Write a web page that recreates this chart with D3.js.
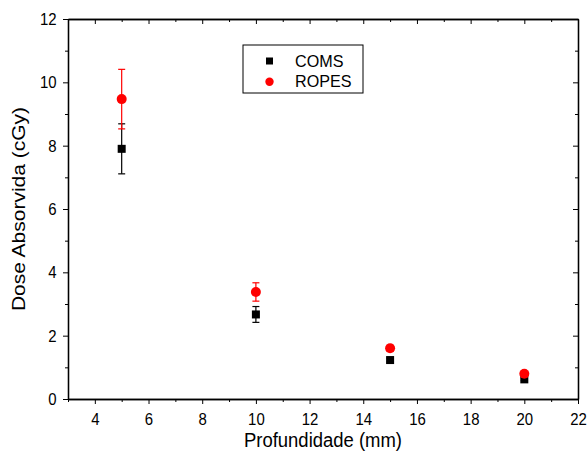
<!DOCTYPE html>
<html>
<head>
<meta charset="utf-8">
<script src="https://cdn.jsdelivr.net/npm/d3@7"></script>
<style>
  body { margin: 0; background: #fff; }
  text { font-family: "Liberation Sans", Arial, sans-serif; }
</style>
</head>
<body>
<div id="chart"></div>
<script>
const width = 587
const height = 457
const margin = {top: 19, bottom: 58, left: 68, right: 9}
const squeeze = 0.88 // the original text looks a bit narrow

// data
const depths = [5, 10, 15, 20]
const comsDose = [7.9, 2.67, 1.23, 0.62]
const comsErr = [0.79, 0.25, 0.06, 0.04]
const ropesDose = [9.47, 3.38, 1.6, 0.8]
const ropesErr = [0.94, 0.29, 0.1, 0.05]
const xTicks = [4, 6, 8, 10, 12, 14, 16, 18, 20, 22]
const yTicks = [0, 2, 4, 6, 8, 10, 12]

const svg = d3.select("#chart").append("svg").attr("width", width).attr("height", height)
const innerW = width - margin.left - margin.right
const innerH = height - margin.top - margin.bottom
const g = svg.append("g").attr("transform", `translate(${margin.left}, ${margin.top})`)

const x = d3.scaleLinear().domain([3, 22]).range([0, innerW])
const y = d3.scaleLinear().domain([0, 12]).range([innerH, 0])

const minorX = d3.range(3, 23, 1).filter(v => v % 2 == 1)
const minorY = d3.range(1, 12, 2)

// bottom and left axes, ticks outward
const xAxis = d3.axisBottom(x).tickValues(xTicks).tickSize(5).tickPadding(9).tickSizeOuter(0)
const yAxis = d3.axisLeft(y).tickValues(yTicks).tickSize(5).tickPadding(8).tickSizeOuter(0)

const xg = g.append("g").attr("transform", `translate(0, ${innerH})`).call(xAxis)
const yg = g.append("g").call(yAxis)
xg.append("g").call(d3.axisBottom(x).tickValues(minorX).tickSize(3).tickFormat("").tickSizeOuter(0))
yg.append("g").call(d3.axisLeft(y).tickValues(minorY).tickSize(3).tickFormat("").tickSizeOuter(0))

// top and right axes, ticks inward
const tg = g.append("g")
tg.call(d3.axisTop(x).tickValues(xTicks).tickSize(-5).tickFormat("").tickSizeOuter(0))
tg.append("g").call(d3.axisTop(x).tickValues(minorX).tickSize(-3).tickFormat("").tickSizeOuter(0))
const rg = g.append("g").attr("transform", `translate(${innerW}, 0)`)
rg.call(d3.axisRight(y).tickValues(yTicks).tickSize(-5).tickFormat("").tickSizeOuter(0))
rg.append("g").call(d3.axisRight(y).tickValues(minorY).tickSize(-3).tickFormat("").tickSizeOuter(0))

g.selectAll(".domain").attr("stroke", "#000").attr("stroke-width", 1.3)
g.selectAll(".tick line").attr("stroke", "#000").attr("stroke-width", 1)
g.selectAll(".tick text").attr("font-size", 17).attr("fill", "#000")
  .attr("transform", `scale(${squeeze}, 1)`)
  .style("font-family", "'Liberation Sans', Arial, sans-serif")

// axis titles
svg.append("text")
  .attr("transform", `translate(${margin.left + innerW / 2}, 447) scale(${squeeze}, 1)`)
  .attr("text-anchor", "middle").attr("font-size", 21).text("Profundidade (mm)")
svg.append("text").attr("transform", `translate(25, ${margin.top + innerH / 2}) rotate(-90) scale(1, ${squeeze})`)
  .attr("text-anchor", "middle").attr("font-size", 21).text("Dose Absorvida (cGy)")

// series
const coms = depths.map((d, i) => ({x: d, y: comsDose[i], e: comsErr[i]}))
const ropes = depths.map((d, i) => ({x: d, y: ropesDose[i], e: ropesErr[i]}))

function drawErrors(data, color) {
  const eg = g.append("g").attr("stroke", color).attr("stroke-width", 1.2)
  eg.selectAll("line.v").data(data).enter().append("line")
    .attr("x1", d => x(d.x)).attr("x2", d => x(d.x))
    .attr("y1", d => y(d.y - d.e)).attr("y2", d => y(d.y + d.e))
  eg.selectAll("line.top").data(data).enter().append("line")
    .attr("x1", d => x(d.x) - 3.5).attr("x2", d => x(d.x) + 3.5)
    .attr("y1", d => y(d.y + d.e)).attr("y2", d => y(d.y + d.e))
  eg.selectAll("line.bot").data(data).enter().append("line")
    .attr("x1", d => x(d.x) - 3.5).attr("x2", d => x(d.x) + 3.5)
    .attr("y1", d => y(d.y - d.e)).attr("y2", d => y(d.y - d.e))
}

drawErrors(coms, "#000")
drawErrors(ropes, "#f00")

g.selectAll("rect.coms").data(coms).enter().append("rect")
  .attr("x", d => x(d.x) - 4).attr("y", d => y(d.y) - 4)
  .attr("width", 8).attr("height", 8).attr("fill", "#000")

g.selectAll("circle.ropes").data(ropes).enter().append("circle")
  .attr("cx", d => x(d.x)).attr("cy", d => y(d.y)).attr("r", 5).attr("fill", "#f00")

// legend
const lg = svg.append("g").attr("transform", "translate(243, 45)")
lg.append("rect").attr("width", 120).attr("height", 48).attr("fill", "#fff")
  .attr("stroke", "#000").attr("stroke-width", 1)
lg.append("rect").attr("x", 23).attr("y", 12.5).attr("width", 7).attr("height", 7).attr("fill", "#000")
lg.append("circle").attr("cx", 26.5).attr("cy", 36.7).attr("r", 4.2).attr("fill", "#f00")
lg.append("text").attr("transform", "translate(52, 21.7) scale(0.95, 1)").attr("font-size", 17).text("COMS")
lg.append("text").attr("transform", "translate(52, 42.3) scale(0.95, 1)").attr("font-size", 17).text("ROPES")
</script>
</body>
</html>
